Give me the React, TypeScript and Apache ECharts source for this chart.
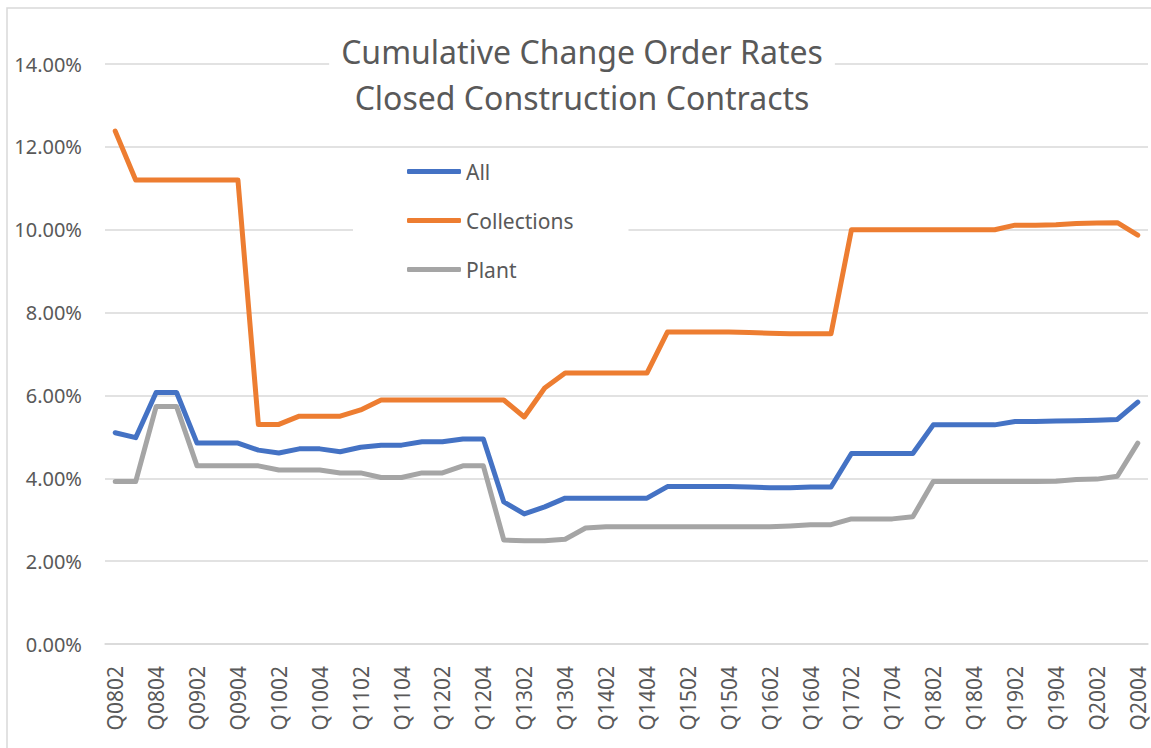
import React, { useEffect, useRef } from "react";
import * as echarts from "echarts";

const categories = [
  "Q0802", "Q0803", "Q0804",
  "Q0901", "Q0902", "Q0903", "Q0904",
  "Q1001", "Q1002", "Q1003", "Q1004",
  "Q1101", "Q1102", "Q1103", "Q1104",
  "Q1201", "Q1202", "Q1203", "Q1204",
  "Q1301", "Q1302", "Q1303", "Q1304",
  "Q1401", "Q1402", "Q1403", "Q1404",
  "Q1501", "Q1502", "Q1503", "Q1504",
  "Q1601", "Q1602", "Q1603", "Q1604",
  "Q1701", "Q1702", "Q1703", "Q1704",
  "Q1801", "Q1802", "Q1803", "Q1804",
  "Q1901", "Q1902", "Q1903", "Q1904",
  "Q2001", "Q2002", "Q2003", "Q2004",
];

const allRates = [
  5.10, 4.98, 6.07,
  6.07, 4.85, 4.85, 4.85,
  4.68, 4.61, 4.71, 4.71,
  4.64, 4.75, 4.80, 4.80,
  4.88, 4.88, 4.95, 4.95,
  3.43, 3.14, 3.31, 3.52,
  3.52, 3.52, 3.52, 3.52,
  3.80, 3.80, 3.80, 3.80,
  3.79, 3.77, 3.77, 3.79,
  3.79, 4.60, 4.60, 4.60,
  4.60, 5.29, 5.29, 5.29,
  5.29, 5.37, 5.37, 5.38,
  5.39, 5.40, 5.42, 5.84,
];

const collectionsRates = [
  12.38, 11.20, 11.20,
  11.20, 11.20, 11.20, 11.20,
  5.30, 5.30, 5.50, 5.50,
  5.50, 5.65, 5.89, 5.89,
  5.89, 5.89, 5.89, 5.89,
  5.89, 5.48, 6.18, 6.54,
  6.54, 6.54, 6.54, 6.54,
  7.53, 7.53, 7.53, 7.53,
  7.52, 7.50, 7.49, 7.49,
  7.49, 10.00, 10.00, 10.00,
  10.00, 10.00, 10.00, 10.00,
  10.00, 10.11, 10.11, 10.12,
  10.15, 10.16, 10.17, 9.87,
];

const plantRates = [
  3.92, 3.92, 5.73,
  5.73, 4.30, 4.30, 4.30,
  4.30, 4.20, 4.20, 4.20,
  4.13, 4.13, 4.02, 4.02,
  4.13, 4.13, 4.30, 4.30,
  2.51, 2.49, 2.49, 2.53,
  2.80, 2.83, 2.83, 2.83,
  2.83, 2.83, 2.83, 2.83,
  2.83, 2.83, 2.85, 2.88,
  2.88, 3.02, 3.02, 3.02,
  3.07, 3.92, 3.92, 3.92,
  3.92, 3.92, 3.92, 3.93,
  3.97, 3.98, 4.05, 4.85,
];

const yTicks = { min: 0, max: 14, interval: 2 };

const TEXT = "#595959";
const FONT = "'Noto Sans', 'Open Sans', sans-serif";

export default function App() {
  const ref = useRef<HTMLDivElement>(null);
  useEffect(() => {
    if (!ref.current) return;
    const chart = echarts.init(ref.current, null, { renderer: "svg" });
    const mk = (name: string, data: number[], color: string) => ({
      name,
      type: "line",
      data,
      symbol: "none",
      showSymbol: false,
      lineStyle: { color, width: 5, cap: "round", join: "round" },
      itemStyle: { color },
    });
    chart.setOption({
      animation: false,
      backgroundColor: "#fff",
      textStyle: { fontFamily: FONT },
      title: {
        text: "Cumulative Change Order Rates\nClosed Construction Contracts",
        left: 570,
        top: 24,
        textAlign: "center",
        backgroundColor: "#fff",
        padding: [4, 12, 4, 12],
        textStyle: {
          color: TEXT,
          fontFamily: FONT,
          fontSize: 32,
          fontWeight: "normal",
          lineHeight: 46,
        },
      },
      legend: {
        orient: "vertical",
        left: 353,
        top: 149,
        backgroundColor: "#fff",
        padding: [12, 55, 20, 54],
        itemWidth: 54,
        itemHeight: 5,
        itemGap: 28,
        icon: "roundRect",
        textStyle: { color: TEXT, fontFamily: FONT, fontSize: 21, padding: [0, 0, 0, 0] },
        data: ["All", "Collections", "Plant"],
      },
      grid: { left: 105, right: 3, top: 64, bottom: 104, containLabel: false },
      xAxis: {
        type: "category",
        data: categories,
        boundaryGap: true,
        axisTick: { show: false },
        axisLine: { show: true, lineStyle: { color: "#d9d9d9", width: 1.5 } },
        axisLabel: {
          interval: 1,
          rotate: 90,
          margin: 22,
          color: TEXT,
          fontFamily: FONT,
          fontSize: 21,
        },
      },
      yAxis: {
        type: "value",
        min: yTicks.min,
        max: yTicks.max,
        interval: yTicks.interval,
        axisLine: { show: false },
        axisTick: { show: false },
        splitLine: { lineStyle: { color: "#d9d9d9", width: 1.5 } },
        axisLabel: {
          margin: 23,
          color: TEXT,
          fontFamily: FONT,
          fontSize: 20,
          formatter: (v: number) => v.toFixed(2) + "%",
        },
      },
      graphic: [
        {
          type: "rect",
          silent: true,
          shape: { x: 7, y: 8, width: 1150, height: 745 },
          style: { fill: "none", stroke: "#d9d9d9", lineWidth: 1.5 },
        },
      ],
      series: [
        mk("All", allRates, "#4472C4"),
        mk("Collections", collectionsRates, "#ED7D31"),
        mk("Plant", plantRates, "#A5A5A5"),
      ],
    });
    return () => chart.dispose();
  }, []);
  return (
    <div
      ref={ref}
      style={{ position: "fixed", left: 0, top: 0, width: 1151, height: 748 }}
    />
  );
}
